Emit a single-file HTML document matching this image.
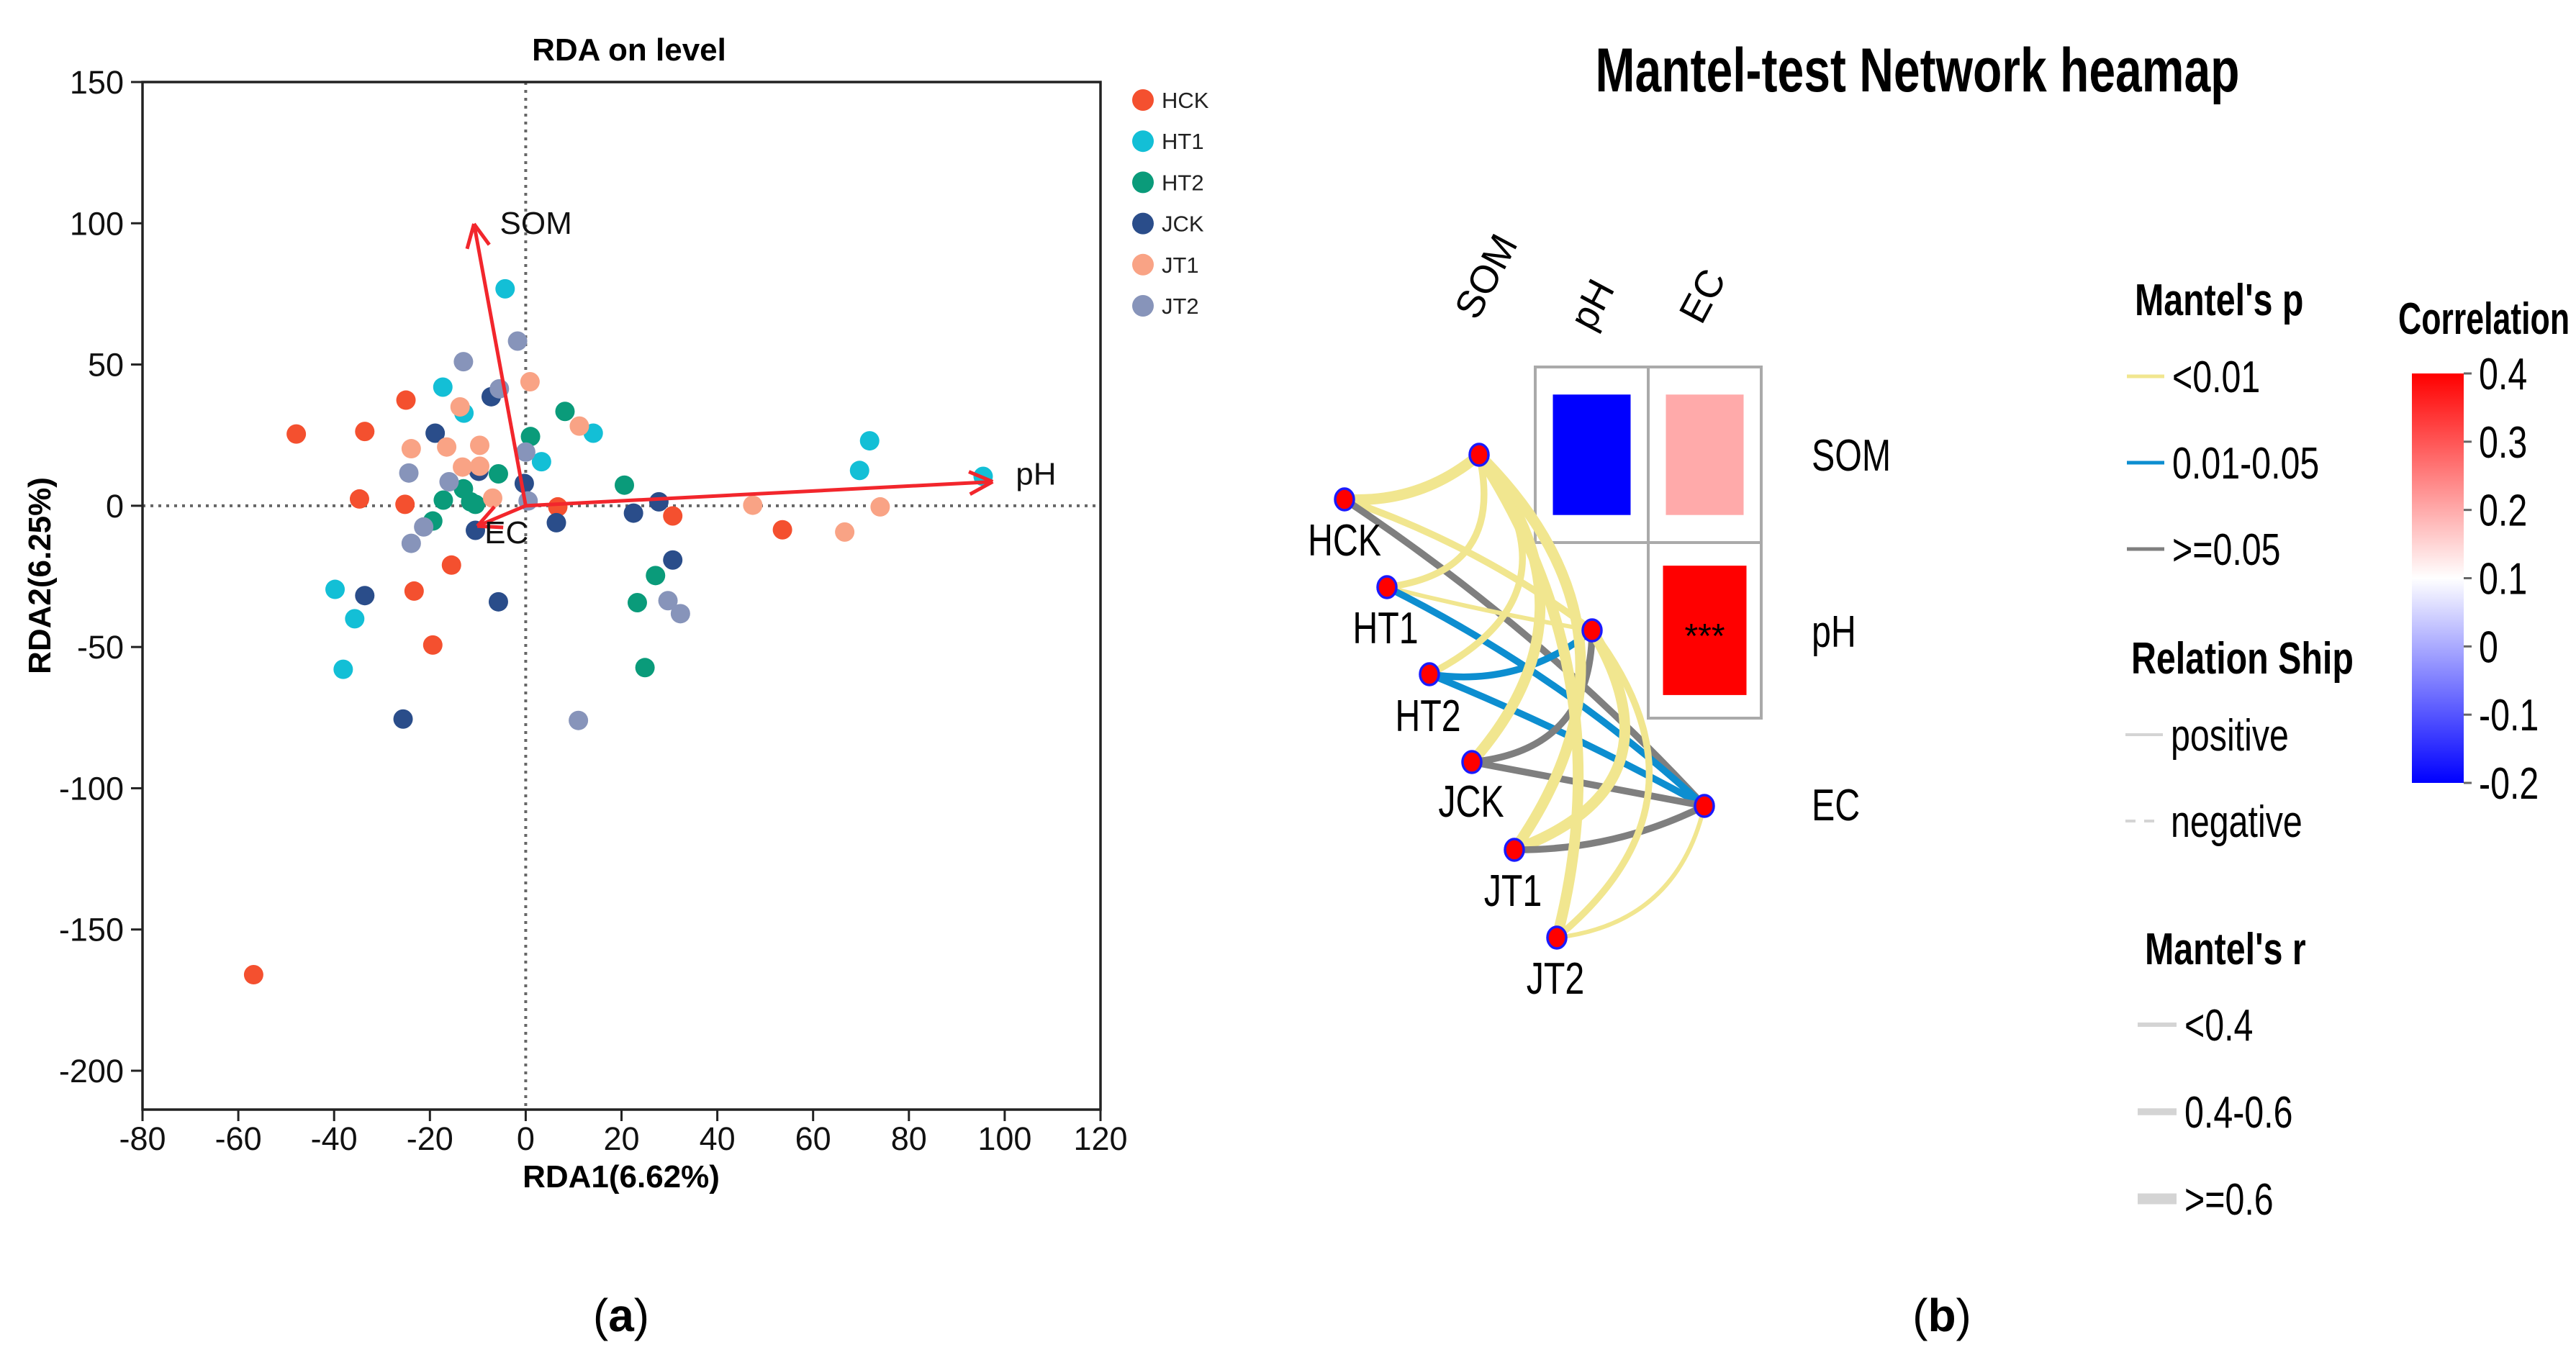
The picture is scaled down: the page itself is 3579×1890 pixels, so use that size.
<!DOCTYPE html>
<html><head><meta charset="utf-8">
<style>
html,body{margin:0;padding:0;background:#fff;}
svg{display:block;}
text{font-family:"Liberation Sans",sans-serif;}
</style></head>
<body>
<svg id="fig" width="3579" height="1890" viewBox="0 0 3579 1890" xmlns="http://www.w3.org/2000/svg">
  <g id="rda"></g>
  <g id="mantel"></g>
  <text x="863" y="1850" font-family="Liberation Serif,serif" font-size="64" text-anchor="middle">(<tspan font-weight="bold">a</tspan>)</text>
  <text x="2698" y="1850" font-family="Liberation Serif,serif" font-size="64" text-anchor="middle">(<tspan font-weight="bold">b</tspan>)</text>
</svg>
<script>
const NS="http://www.w3.org/2000/svg";
// ---------- RDA data ----------
const groups=["HCK","HT1","HT2","JCK","JT1","JT2"];
const groupColors=["#f4502f","#13bfd6","#0a9b7a","#2a4d8a","#f9a385","#8794ba"];
const hckX=[-47.9,-33.6,-25,-34.7,-25.2,6.7,30.7,53.6,-15.5,-23.3,-19.4,-56.8];
const hckY=[25.4,26.3,37.4,2.4,0.5,-0.4,-3.6,-8.5,-21,-30.2,-49.3,-166];
const ht1X=[-4.3,-17.3,-12.9,14.1,3.3,71.8,69.7,95.5,-39.8,-35.7,-38.1];
const ht1Y=[76.8,42,32.8,25.7,15.6,23,12.5,10.4,-29.6,-40,-57.9];
const ht2X=[8.2,1,-5.7,20.6,-17.2,-13,-11.5,-10.5,-19.4,27.1,23.3,24.9];
const ht2Y=[33.4,24.5,11.3,7.3,2,6,1.4,0.5,-5.4,-24.7,-34.3,-57.3];
const jckX=[-7.2,-18.9,-9.8,-0.3,-10.5,6.4,22.5,27.8,30.7,-33.6,-5.7,-25.6];
const jckY=[38.6,25.7,12.2,7.9,-8.7,-6,-2.6,1.4,-19.2,-31.8,-34,-75.5];
const jt1X=[0.9,-13.7,11.2,-23.9,-16.5,-9.6,-13.2,-9.6,-6.9,47.4,74,66.6];
const jt1Y=[43.9,35,28.2,20.2,20.8,21.4,13.7,14,2.7,0.2,-0.4,-9.3];
const jt2X=[-1.7,-13,-5.5,0,-24.4,-16,0.5,-21.3,-23.9,29.7,32.3,11];
const jt2Y=[58.3,51,41.4,19,11.6,8.5,1.7,-7.5,-13.3,-33.6,-38.2,-76];
const envNames=["SOM","pH","EC"];
const envX=[-10.8,97.5,-10.1];
const envY=[99.8,8.5,-7.2];
const xTicks=[-80,-60,-40,-20,0,20,40,60,80,100,120];
const yTicks=[150,100,50,0,-50,-100,-150,-200];
// ---------- Mantel data ----------
const grpNodes=["HCK","HT1","HT2","JCK","JT1","JT2"];
const varNodes=["SOM","pH","EC"];
const edgeFrom=["HCK","HCK","HCK","HT1","HT1","HT1","HT2","HT2","HT2","JCK","JCK","JCK","JT1","JT1","JT1","JT2","JT2","JT2"];
const edgeTo=["SOM","pH","EC","SOM","pH","EC","SOM","pH","EC","SOM","pH","EC","SOM","pH","EC","SOM","pH","EC"];
const edgeP=["<0.01","<0.01",">=0.05","<0.01","<0.01","0.01-0.05","<0.01","0.01-0.05","0.01-0.05","<0.01",">=0.05",">=0.05","<0.01","<0.01",">=0.05","<0.01","<0.01","<0.01"];
const edgeR=[">=0.6","0.4-0.6","0.4-0.6","0.4-0.6","<0.4","0.4-0.6","0.4-0.6","0.4-0.6","0.4-0.6",">=0.6","0.4-0.6","0.4-0.6",">=0.6",">=0.6","0.4-0.6",">=0.6","0.4-0.6","<0.4"];
const edgeCurv=[0.2,-0.08,-0.06,0.55,0.02,-0.07,0.6,0.22,-0.03,0.42,0.45,0,0.42,0.6,0.12,0.22,0.48,0.35];
const corrRows=["SOM","SOM","pH"];
const corrCols=["pH","EC","EC"];
const corrVals=[-0.2,0.2,0.4];
const corrSig=["","","***"];
const cbTicks=[0.4,0.3,0.2,0.1,0,-0.1,-0.2];

function el(tag,attrs,parent,txt){const e=document.createElementNS(NS,tag);for(const k in attrs)e.setAttribute(k,attrs[k]);if(txt!==undefined)e.textContent=txt;parent.appendChild(e);return e;}
function nar(x,y,size,str,parent,extra,sc){const a={x:0,y:0,'font-size':size,transform:`translate(${x},${y}) scale(${sc||0.78},1)`};if(extra)for(const k in extra)a[k]=extra[k];return el('text',a,parent,str);}

// ================= RDA =================
const R=document.getElementById('rda');
const L=198,Rt=1529,T=114,B=1542;
const xMin=-80,xMax=120,yTop=150,yBot=-200,yBotPx=1488;
function sx(v){return L+(v-xMin)*(Rt-L)/(xMax-xMin);}
function sy(v){return T+(yTop-v)*(yBotPx-T)/(yTop-yBot);}
let t=el('text',{x:874,y:84,'font-size':44,'font-weight':'bold','text-anchor':'middle'},R,'RDA on level');


let zl=el('line',{x1:sx(0),x2:sx(0),y1:T,y2:B,stroke:'#666','stroke-width':4,'stroke-dasharray':'4 7'},R);


zl=el('line',{x1:L,x2:Rt,y1:sy(0),y2:sy(0),stroke:'#666','stroke-width':4,'stroke-dasharray':'4 7'},R);


let fr=el('rect',{x:L,y:T,width:Rt-L,height:B-T,fill:'none',stroke:'#222','stroke-width':3.5},R);


xTicks.forEach(v=>{
  const tk=el('line',{x1:sx(v),x2:sx(v),y1:B,y2:B+16,stroke:'#222','stroke-width':3},R);
  
  
  const lb=el('text',{x:sx(v),y:1598,'font-size':45,'text-anchor':'middle',fill:'#111'},R,String(v));
  
  
});
yTicks.forEach(v=>{
  const tk=el('line',{x1:L-16,x2:L,y1:sy(v),y2:sy(v),stroke:'#222','stroke-width':3},R);
  
  
  const lb=el('text',{x:172,y:sy(v)+16,'font-size':45,'text-anchor':'end',fill:'#111'},R,String(v));
  
  
});
t=el('text',{x:863,y:1650,'font-size':44,'font-weight':'bold','text-anchor':'middle'},R,'RDA1(6.62%)');


t=el('text',{x:0,y:0,'font-size':44,'font-weight':'bold','text-anchor':'middle',transform:'translate(70,800) rotate(-90)'},R,'RDA2(6.25%)');


const allX=[hckX,ht1X,ht2X,jckX,jt1X,jt2X], allY=[hckY,ht1Y,ht2Y,jckY,jt1Y,jt2Y];
groups.forEach((g,gi)=>{
  const gg=el('g',{},R);
  
  
  allX[gi].forEach((x,i)=>{
    const c=el('circle',{cx:sx(x),cy:sy(allY[gi][i]),r:13.5,fill:groupColors[gi]},gg);
    
    
  });
});
envNames.forEach((n,i)=>{
  const x0=sx(0),y0=sy(0),x1=sx(envX[i]),y1=sy(envY[i]);
  const g=el('g',{},R);
  
  
  el('line',{x1:x0,y1:y0,x2:x1,y2:y1,stroke:'#f2262c','stroke-width':5},g);
  const a=Math.atan2(y1-y0,x1-x0),h=36;
  [0.45,-0.45].forEach(d=>{el('line',{x1:x1,y1:y1,x2:x1-h*Math.cos(a+d),y2:y1-h*Math.sin(a+d),stroke:'#f2262c','stroke-width':5},g);});
  const off=[[36,0],[32,-10],[10,10]][i];
  const lb=el('text',{x:x1+off[0],y:y1+off[1]+14,'font-size':44,fill:'#111'},g,n);
  
  
});
groups.forEach((g,i)=>{
  const lg=el('g',{},R);
  
  
  const y=139+i*57.2;
  el('circle',{cx:1588,cy:y,r:15,fill:groupColors[i]},lg);
  el('text',{x:1614,y:y+11,'font-size':31,fill:'#222'},lg,g);
});

// ================= Mantel =================
const M=document.getElementById('mantel');
t=el('text',{x:2664,y:127,'font-size':86,'font-weight':'bold','text-anchor':'middle',textLength:895,lengthAdjust:'spacingAndGlyphs'},M,'Mantel-test Network heamap');


const nodePos={HCK:[1868,694],HT1:[1927,816],HT2:[1986,937],JCK:[2045,1059],JT1:[2104,1181],JT2:[2163,1303],SOM:[2055,632],pH:[2212,876],EC:[2368,1120]};
const pColor={"<0.01":"#f1e68f","0.01-0.05":"#0d8ed0",">=0.05":"#7f7f7f"};
const rWidth={"<0.4":6,"0.4-0.6":9.5,">=0.6":15};
const cellX={pH:2133,EC:2290},cellY={SOM:510,pH:754},cw=157,ch=244;
const hg=el('g',{},M);


function corrColor(v){
  if(v>=0.1){const f=(v-0.1)/0.3;const c=Math.round(255*(1-f));return `rgb(255,${c},${c})`;}
  const f=(0.1-v)/0.3;const c=Math.round(255*(1-f));return `rgb(${c},${c},255)`;}
corrRows.forEach((r,i)=>{
  const x=cellX[corrCols[i]],y=cellY[r];
  const cell=el('rect',{x:x,y:y,width:cw,height:ch,fill:'#fff',stroke:'#aaa','stroke-width':4},hg);
  
  
  const av=Math.abs(corrVals[i]);
  const w=100+40*av, h=155+62*av;
  const tile=el('rect',{x:x+(cw-w)/2,y:y+(ch-h)/2,width:w,height:h,fill:corrColor(corrVals[i])},hg);
  
  
  if(corrSig[i]){const st=el('text',{x:x+cw/2,y:y+ch/2+24,'font-size':48,'text-anchor':'middle'},hg,corrSig[i]);
    
    }
});
const colLab={SOM:[2052,447],pH:[2212,462],EC:[2364,453]};
varNodes.forEach(v=>{
  const p=colLab[v];
  const lb=el('text',{x:0,y:0,'font-size':54,transform:`translate(${p[0]},${p[1]}) rotate(-62)`},M,v);
  
  
});
const rowLabY={SOM:654,pH:899,EC:1140};
varNodes.forEach(v=>{
  const lb=nar(2517,rowLabY[v],62,v,M);
  
  
});
const eg=el('g',{fill:'none','stroke-linecap':'round'},M);


edgeFrom.forEach((f,i)=>{
  const a=nodePos[f],b=nodePos[edgeTo[i]];
  const dx=b[0]-a[0],dy=b[1]-a[1],len=Math.hypot(dx,dy);
  const mx=(a[0]+b[0])/2,my=(a[1]+b[1])/2;
  const c=edgeCurv[i];
  const cx=mx+(-dy/len)*c*len, cy=my+(dx/len)*c*len;
  const p=el('path',{d:`M${a[0]},${a[1]} Q${cx},${cy} ${b[0]},${b[1]}`,stroke:pColor[edgeP[i]],'stroke-width':rWidth[edgeR[i]]},eg);
  
  
});
const labOff={HCK:[0,78],HT1:[-2,78],HT2:[-2,79],JCK:[-1,76],JT1:[-2,78],JT2:[-2,78]};
grpNodes.concat(varNodes).forEach(n=>{
  const p=nodePos[n];
  const c=el('ellipse',{cx:p[0],cy:p[1],rx:13,ry:15,fill:'#f00',stroke:'#1a1aff','stroke-width':3.5},M);
  
  
  if(labOff[n]){
    const lb=nar(p[0]+labOff[n][0],p[1]+labOff[n][1],62,n,M,{'text-anchor':'middle'});
    
    
  }
});
const lgp=el('g',{},M);


nar(2966,438,62,"Mantel's p",lgp,{'font-weight':'bold'});
const pLabels=["<0.01","0.01-0.05",">=0.05"];
pLabels.forEach((l,i)=>{
  const y=523+i*120;
  const e=el('g',{},lgp);
  
  
  el('line',{x1:2955,x2:3007,y1:y,y2:y,stroke:pColor[l],'stroke-width':5},e);
  nar(3018,y+22,62,l,e);
});
const lgs=el('g',{},M);


nar(2961,936,62,"Relation Ship",lgs,{'font-weight':'bold'});
["positive","negative"].forEach((l,i)=>{
  const y=1021+i*120;
  const e=el('g',{},lgs);
  
  
  el('line',{x1:2953,x2:3005,y1:y,y2:y,stroke:'#d4d4d4','stroke-width':4,'stroke-dasharray':i?'14 12':'none'},e);
  nar(3016,y+22,62,l,e);
});
const lgr=el('g',{},M);


nar(2980,1340,62,"Mantel's r",lgr,{'font-weight':'bold'});
["<0.4","0.4-0.6",">=0.6"].forEach((l,i)=>{
  const y=1424+i*121;
  const e=el('g',{},lgr);
  
  
  el('line',{x1:2970,x2:3024,y1:y,y2:y,stroke:'#d4d4d4','stroke-width':rWidth[l]},e);
  nar(3035,y+22,62,l,e);
});
const cb=el('g',{},M);


const defs=el('defs',{},cb);
const lgd=el('linearGradient',{id:'cbg',x1:0,y1:0,x2:0,y2:1},defs);
el('stop',{offset:'0',  'stop-color':'#ff0000'},lgd);
el('stop',{offset:'0.5','stop-color':'#ffffff'},lgd);
el('stop',{offset:'1',  'stop-color':'#0000ff'},lgd);
nar(3332,464,62,'Correlation',cb,{'font-weight':'bold'},0.72);
const cbTop=519,cbBot=1088;
el('rect',{x:3351,y:cbTop,width:72,height:cbBot-cbTop,fill:'url(#cbg)'},cb);
cbTicks.forEach(v=>{
  const y=cbTop+(0.4-v)/0.6*(cbBot-cbTop);
  el('line',{x1:3423,x2:3434,y1:y,y2:y,stroke:'#666','stroke-width':3},cb);
  const lb=nar(3444,y+22,62,String(v),cb);
  
  
});
</script>
</body></html>
